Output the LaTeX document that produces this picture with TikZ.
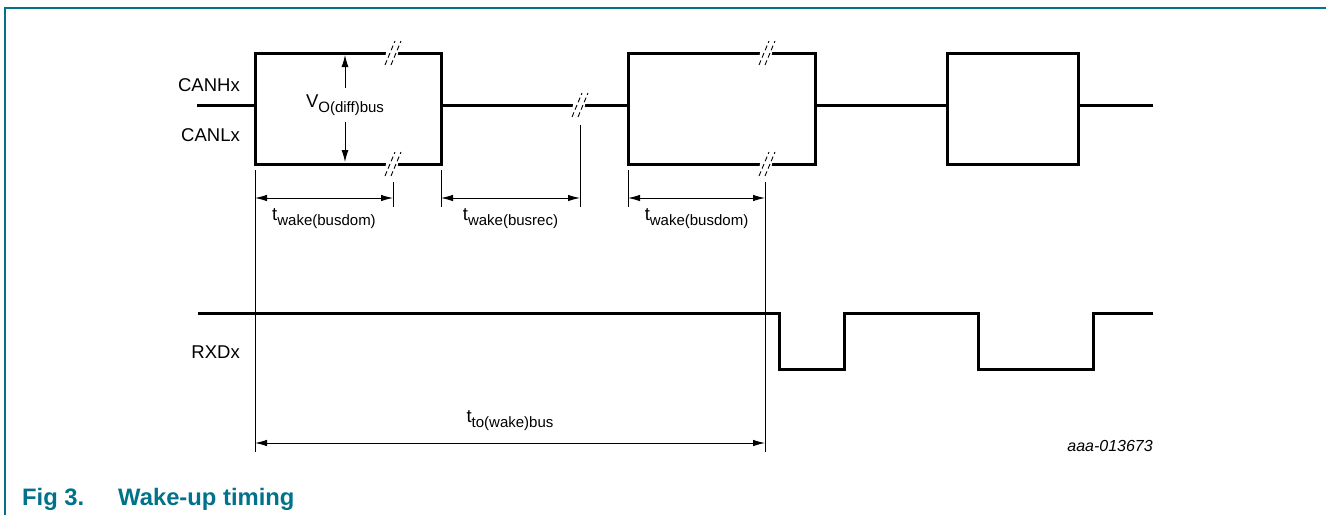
\documentclass[tikz,border=0pt]{standalone}
\usepackage{fontspec}
\setmainfont{Liberation Sans}
\usetikzlibrary{arrows.meta}
\definecolor{nxpteal}{RGB}{0,114,137}
\newcommand{\lo}[1]{\raisebox{-5pt}{\fontsize{15}{15}\selectfont #1}}

\begin{document}
\begin{tikzpicture}[x=1pt, y=-1pt,
	sig/.style={line width=3pt, line join=miter},
	thin/.style={line width=0.9pt},
	dim/.style={line width=0.9pt, {Latex[length=12pt,width=6.5pt]}-{Latex[length=12pt,width=6.5pt]}},
	lbl/.style={font=\fontsize{18.5}{20}\selectfont, inner sep=0pt},
	brk/.pic={
		\fill[white] (-8,5) -- (-6,-5) -- (6,-5) -- (4,5) -- cycle;
		\draw[line width=0.9pt, dash pattern=on 5pt off 3pt] (-8,12) -- (2,-12) (-2,12) -- (8,-12);
	}]
	\useasboundingbox (0,0) rectangle (1326,515);
	\draw[nxpteal, line width=2pt] (5,515) -- (5,8) -- (1326,8);

	\draw[sig] (197,105) -- (255,105);
	\draw[sig] (255,53) rectangle (441,164);
	\draw[sig] (441,105) -- (628,105);
	\draw[sig] (628,53) rectangle (815,164);
	\draw[sig] (815,105) -- (947,105);
	\draw[sig] (947,53) rectangle (1078,164);
	\draw[sig] (1078,105) -- (1153,105);
	\pic at (393,53) {brk};
	\pic at (393,164) {brk};
	\pic at (580,105) {brk};
	\pic at (767,53) {brk};
	\pic at (767,164) {brk};

	\draw[sig] (198,313) -- (779,313) -- (779,369) -- (844,369) -- (844,313)
		-- (978,313) -- (978,369) -- (1093,369) -- (1093,313) -- (1153,313);

	\node (canh) at (240,85) [lbl, anchor=east] {CANHx};
	\node (canl) at (240,135) [lbl, anchor=east] {CANLx};
	\node (rxd) at (240,352) [lbl, anchor=east] {RXDx};
	\node (vod) at (345,105) [lbl] {V\lo{O(diff)bus}};
	\draw[thin, -{Latex[length=12pt,width=7pt]}] (vod.north) ++(0,-6) -- (345,55);
	\draw[thin, -{Latex[length=12pt,width=7pt]}] (vod.south) ++(0,6) -- (345,162);

	\coordinate (a0) at (255,170);
	\coordinate (a1) at (393,182);
	\coordinate (b0) at (441,170);
	\coordinate (b1) at (580,125);
	\coordinate (c0) at (628,170);
	\coordinate (c1) at (765,182);
	\draw[thin] (a0) -- (255,452);
	\draw[thin] (a1) -- (393,207);
	\draw[thin] (b0) -- (441,207);
	\draw[thin] (b1) -- (580,207);
	\draw[thin] (c0) -- (628,207);
	\draw[thin] (c1) -- (765,452);

	\draw[dim] (a0 |- 0,198) to node [lbl, below=10pt] {t\lo{wake(busdom)}} (a1 |- 0,198);
	\draw[dim] (b0 |- 0,198) to node [lbl, below=10pt] {t\lo{wake(busrec)}} (b1 |- 0,198);
	\draw[dim] (c0 |- 0,198) to node [lbl, below=10pt] {t\lo{wake(busdom)}} (c1 |- 0,198);
	\draw[dim] (a0 |- 0,443) to node [lbl, above=12pt] {t\lo{to(wake)bus}} (c1 |- 0,443);

	\node (code) at (1153,446) [anchor=east, inner sep=0pt, font=\fontsize{16}{18}\selectfont\itshape] {aaa-013673};
	\node (fig) at (22,505) [anchor=base west, inner sep=0pt, text=nxpteal, font=\fontsize{23.8}{26}\selectfont\bfseries] {Fig 3.};
	\node (title) at (118,505) [anchor=base west, inner sep=0pt, text=nxpteal, font=\fontsize{23.8}{26}\selectfont\bfseries] {Wake-up timing};
\end{tikzpicture}
\end{document}
